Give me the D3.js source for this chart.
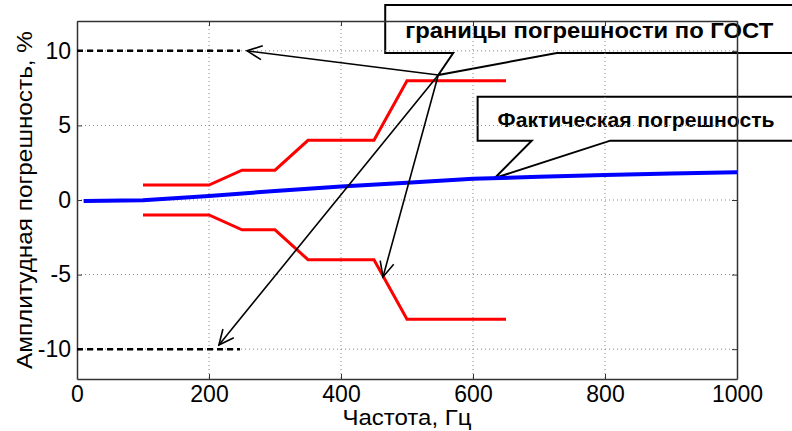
<!DOCTYPE html>
<meta charset="utf-8">
<style>
body { margin: 0; background: #fff; }
svg { display: block; font-family: "Liberation Sans", Arial, sans-serif; }
.grid line { stroke: #888; stroke-dasharray: 1,3; stroke-width: 1; }
.axis path, .axis line { stroke: #333; }
.axis text { font-size: 23px; fill: #000; }
.callout { fill: #fff; stroke: #000; stroke-width: 2; }
.callout-text { font-weight: bold; }
.pointer { fill: none; stroke: #000; stroke-width: 1.6; }
.axis-title { font-size: 22px; }
</style>
<body>
<svg width="792" height="431"></svg>
<script src="https://d3js.org/d3.v7.min.js"></script>
<script>

// tolerance limits (GOST) - frequency, Hz and error, %
let limitFreq  = [100, 200, 250, 300, 350, 450, 500, 650];
let limitUpper = [1, 1, 2, 2, 4, 4, 8, 8];
let limitLower = [-1, -1, -2, -2, -4, -4, -8, -8];

// measured error
let actualFreq  = [10, 100, 200, 300, 400, 500, 600, 700, 800, 900, 1000];
let actualError = [-0.07, -0.02, 0.27, 0.6, 0.9, 1.16, 1.42, 1.56, 1.68, 1.78, 1.86];

// dashed reference lines at +-10 %
let refFreq = [0, 247];
let refLevels = [10, -10];

let xTicks = [0, 200, 400, 600, 800, 1000];
let yTicks = [-10, -5, 0, 5, 10];

// annotations, in data units
let gostLabel = 'границы погрешности по ГОСТ';
let actualLabel = 'Фактическая погрешность';
let hub = [547.4, 8.38];
let gostTargets = [[257.6, 10.0], [215, -9.72], [463.6, -5.16]];
let gostBox = {x0: 467, x1: 1100, y0: 13.07, y1: 9.85, p0: 570, p1: 727};
let actualBox = {x0: 607, x1: 1100, y0: 6.93, y1: 3.98, p0: 689, p1: 808};
let actualTip = [633, 1.47];

let margin = {top: 21, right: 55, bottom: 52, left: 77};
let width = 792 - margin.left - margin.right,
    height = 431 - margin.top - margin.bottom;

let svg = d3.select('svg');
let g = svg.append('g').attr('transform', 'translate(' + margin.left + ',' + margin.top + ')');

let x = d3.scaleLinear().domain([0, 1000]).range([0, width]);
let y = d3.scaleLinear().domain([-12, 12]).range([height, 0]);

// callout boxes go under the grid, like in the original
function callout(b, tip, label, baseline, size, len) {
  let pts = [
    [x(b.x0), y(b.y0)], [x(b.x1), y(b.y0)], [x(b.x1), y(b.y1)],
    [x(b.p1), y(b.y1)], [x(tip[0]), y(tip[1])], [x(b.p0), y(b.y1)],
    [x(b.x0), y(b.y1)]
  ];
  g.append('path').attr('class', 'callout').attr('d', d3.line()(pts) + 'Z');
  g.append('text').attr('class', 'callout-text')
    .attr('x', x(b.x0) + 20).attr('y', baseline)
    .style('font-size', size + 'px')
    .attr('textLength', len).attr('lengthAdjust', 'spacingAndGlyphs')
    .text(label);
}
callout(gostBox, hub, gostLabel, 17, 22, 368);
callout(actualBox, actualTip, actualLabel, 106, 21, 277);

// grid
g.append('g').attr('class', 'grid')
  .selectAll('line').data(xTicks.slice(1, -1)).join('line')
  .attr('x1', d => x(d)).attr('x2', d => x(d)).attr('y1', 0).attr('y2', height);
g.append('g').attr('class', 'grid')
  .selectAll('line').data(yTicks).join('line')
  .attr('x1', 0).attr('x2', width).attr('y1', d => y(d)).attr('y2', d => y(d));

// axes with inner ticks, box around
let fmt = d => String(d);
let xAxis = d3.axisBottom(x).tickValues(xTicks).tickFormat(fmt).tickSizeInner(-5).tickSizeOuter(0).tickPadding(7);
let yAxis = d3.axisLeft(y).tickValues(yTicks).tickFormat(fmt).tickSizeInner(-5).tickSizeOuter(0).tickPadding(6);
g.append('g').attr('class', 'axis').attr('transform', 'translate(0,' + height + ')').call(xAxis);
g.append('g').attr('class', 'axis').call(yAxis);
g.append('g').attr('class', 'axis').call(d3.axisTop(x).tickValues(xTicks).tickSizeInner(-5).tickSizeOuter(0).tickFormat(''));
g.append('g').attr('class', 'axis').attr('transform', 'translate(' + width + ',0)')
  .call(d3.axisRight(y).tickValues(yTicks).tickSizeInner(-5).tickSizeOuter(0).tickFormat(''));
g.selectAll('.axis path').attr('stroke-width', 1.5);

// axis titles
g.append('text').attr('class', 'axis-title').attr('x', width / 2).attr('y', height + 46)
  .attr('text-anchor', 'middle')
  .attr('textLength', 129).attr('lengthAdjust', 'spacingAndGlyphs')
  .text('Частота, Гц');
g.append('text').attr('class', 'axis-title')
  .attr('transform', 'translate(' + (32 - margin.left) + ',' + y(0) + ') rotate(-90)')
  .attr('text-anchor', 'middle')
  .attr('textLength', 338).attr('lengthAdjust', 'spacingAndGlyphs')
  .text('Амплитудная погрешность, %');

let line = d3.line().x(d => x(d[0])).y(d => y(d[1]));

// dashed +-10 lines
refLevels.forEach(function(v) {
  g.append('path').attr('d', line(refFreq.map(f => [f, v])))
    .attr('fill', 'none').attr('stroke', '#000').attr('stroke-width', 2.5)
    .attr('stroke-dasharray', '6,4');
});

// GOST limits
[limitUpper, limitLower].forEach(function(vals) {
  g.append('path').attr('d', line(limitFreq.map((f, i) => [f, vals[i]])))
    .attr('fill', 'none').attr('stroke', '#ff0000').attr('stroke-width', 3);
});

// actual error
g.append('path').attr('d', line(actualFreq.map((f, i) => [f, actualError[i]])))
  .attr('fill', 'none').attr('stroke', '#0000ff').attr('stroke-width', 4);

// arrows from the hub
svg.append('defs').append('marker')
  .attr('id', 'head').attr('viewBox', '-16 -8 18 16')
  .attr('refX', 0).attr('refY', 0)
  .attr('markerWidth', 18).attr('markerHeight', 16)
  .attr('markerUnits', 'userSpaceOnUse').attr('orient', 'auto')
  .append('path').attr('d', 'M-15,-7L0,0L-15,7')
  .attr('fill', 'none').attr('stroke', '#000').attr('stroke-width', 1.6);

gostTargets.forEach(function(t) {
  g.append('path').attr('class', 'pointer')
    .attr('d', line([hub, t]))
    .attr('marker-end', 'url(#head)');
});

</script>
</body>
